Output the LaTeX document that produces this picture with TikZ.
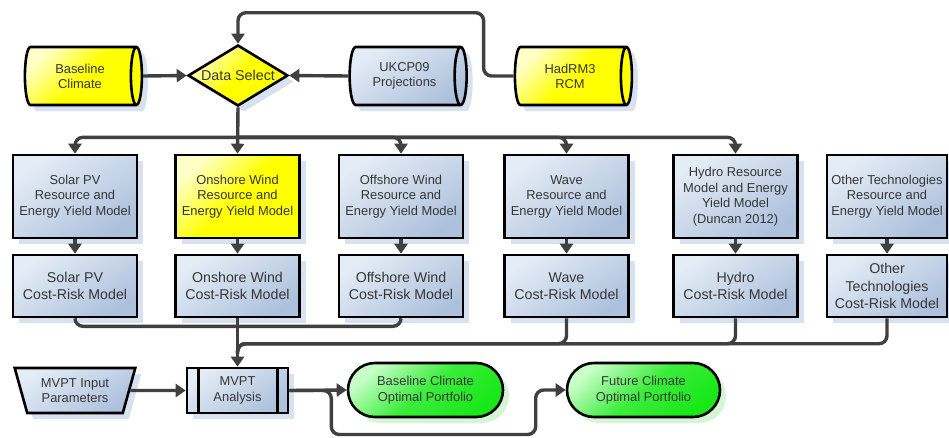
\documentclass[tikz,border=0pt]{standalone}
\usepackage{fontspec}
\setmainfont{Liberation Sans}
\usetikzlibrary{shapes.geometric,shapes.misc,arrows.meta,shadows,calc}
\definecolor{txt}{HTML}{363636}
\definecolor{ln}{HTML}{404040}
\definecolor{bL}{HTML}{E4ECF6}
\definecolor{bD}{HTML}{ADC1DC}
\definecolor{yL}{HTML}{FFFFC8}
\definecolor{yD}{HTML}{FFFF00}
\definecolor{gL}{HTML}{C8FFC8}
\definecolor{gD}{HTML}{18E818}
\definecolor{shB}{HTML}{D8E1EF}
\definecolor{shG}{HTML}{D4F6D4}
\begin{document}
\begin{tikzpicture}[x=1pt,y=-1pt,
 font=\fontsize{12.9}{15.5}\selectfont,
 base/.style={draw=black, line width=2.6pt, align=center, inner sep=0pt, text=txt},
 shb/.style={drop shadow={shadow xshift=6pt, shadow yshift=-6pt, fill=shB, opacity=1}},
 shg/.style={drop shadow={shadow xshift=6pt, shadow yshift=-6pt, fill=shG, opacity=1}},
 bluef/.style={top color=bL, bottom color=bD, shading angle=35},
 yfill/.style={top color=yL, bottom color=yD, middle color=yD, shading angle=45},
 gfill/.style={top color=gL, bottom color=gD, middle color=gD!80!gL, shading angle=40},
 box/.style={base, shb, bluef, rectangle, minimum width=124pt, minimum height=83pt},
 cbox/.style={box, minimum height=62pt, font=\fontsize{14.2}{17.3}\selectfont},
 cyl/.style={base, shb, cylinder, shape aspect=0.45, minimum width=58pt, minimum height=117pt, font=\fontsize{12.9}{15}\selectfont},
 stad/.style={base, shg, gfill, rounded rectangle, minimum height=54pt, font=\fontsize{12.9}{16}\selectfont},
 conn/.style={draw=ln, line width=3.4pt, -{Triangle[length=10pt,width=13pt]}},
 plainline/.style={draw=ln, line width=3.4pt},
]
\path[fill=white] (0,0) rectangle (949,437);
\useasboundingbox (0,0) rectangle (949,437);

% top row
\node[cyl, yfill] (bc) at (80,76) {Baseline\\Climate};
\node[base, shb, yfill, diamond, aspect=1.64, minimum width=100pt, minimum height=61pt, font=\fontsize{14.3}{16}\selectfont] (ds) at (238,75.5) {Data Select};
\node[cyl, bluef] (uk) at (404.5,76) {UKCP09\\Projections};
\node[cyl, yfill] (had) at (570,76) {HadRM3\\RCM};

% resource models
\node[box] (s1) at (75,196.5) {Solar PV\\Resource and\\Energy Yield Model};
\node[box, yfill] (o1) at (237.5,196.5) {Onshore Wind\\Resource and\\Energy Yield Model};
\node[box] (f1) at (401,196.5) {Offshore Wind\\Resource and\\Energy Yield Model};
\node[box] (w1) at (566.5,196.5) {Wave\\Resource and\\Energy Yield Model};
\node[box] (h1) at (735.5,196.5) {Hydro Resource\\Model and Energy\\Yield Model\\(Duncan 2012)};
\node[box, minimum width=120pt] (t1) at (887,196.5) {Other Technologies\\Resource and\\Energy Yield Model};

% cost-risk models
\node[cbox] (s2) at (75,286) {Solar PV\\Cost-Risk Model};
\node[cbox] (o2) at (237.5,286) {Onshore Wind\\Cost-Risk Model};
\node[cbox] (f2) at (401,286) {Offshore Wind\\Cost-Risk Model};
\node[cbox] (w2) at (566.5,286) {Wave\\Cost-Risk Model};
\node[cbox] (h2) at (735.5,286) {Hydro\\Cost-Risk Model};
\node[cbox, minimum width=120pt] (t2) at (887,286) {Other\\Technologies\\Cost-Risk Model};

% bottom row
\node[base, shb, bluef, trapezium, shape border rotate=180, trapezium left angle=70, trapezium right angle=70, trapezium stretches=true, minimum width=121pt, minimum height=45pt] (inp) at (75,390.5) {MVPT Input\\Parameters};
\node[base, shb, bluef, rectangle, minimum width=101pt, minimum height=45pt] (ana) at (237.5,390.5) {MVPT\\Analysis};
\draw[line width=2.6pt] ($(ana.north west)+(13,0)$) -- ($(ana.south west)+(13,0)$);
\draw[line width=2.6pt] ($(ana.north east)+(-12,0)$) -- ($(ana.south east)+(-12,0)$);
\node[stad, minimum width=155pt] (bp) at (425.5,390) {Baseline Climate\\Optimal Portfolio};
\node[stad, minimum width=153pt] (fp) at (643.5,390) {Future Climate\\Optimal Portfolio};

% connectors top
\draw[conn] (bc.east) -- (ds.west);
\draw[conn] (uk.west) -- (ds.east);
\draw[conn, rounded corners=8pt] (had.west) -- ++(-30,0) |- ($(ds.north)+(0,-31)$) -- (ds.north);

\coordinate (bt) at ($(ds.south)+(0,30)$);
\draw[conn] (ds.south) -- (o1.north);
\foreach \n in {s1,f1,w1,h1}
  \draw[conn, rounded corners=8pt] (bt) -| (\n.north);

\foreach \a/\b in {s1/s2,o1/o2,f1/f2,w1/w2,h1/h2,t1/t2}
  \draw[conn] (\a.south) -- (\b.north);

% bottom buses
\coordinate (bb) at ($(o2.south)+(0,8)$);
\draw[plainline, rounded corners=8pt] (s2.south) |- (bb);
\draw[plainline, rounded corners=8pt] (f2.south) |- (bb);
\coordinate (jr) at ($(ana.north)+(0,-23)$);
\foreach \n in {w2,h2,t2}
  \draw[plainline, rounded corners=8pt] (\n.south) |- (jr) -- ++(0,10);
\draw[conn] (o2.south) -- (ana.north);

\draw[conn] (inp.east) -- (ana.west);
\draw[conn] (ana.east) -- (bp.west);
\draw[conn, rounded corners=8pt] (ana.east) -- ++(42,0) -- ++(0,44) -| ($(fp.west)+(-30,0)$) -- (fp.west);
\end{tikzpicture}
\end{document}
